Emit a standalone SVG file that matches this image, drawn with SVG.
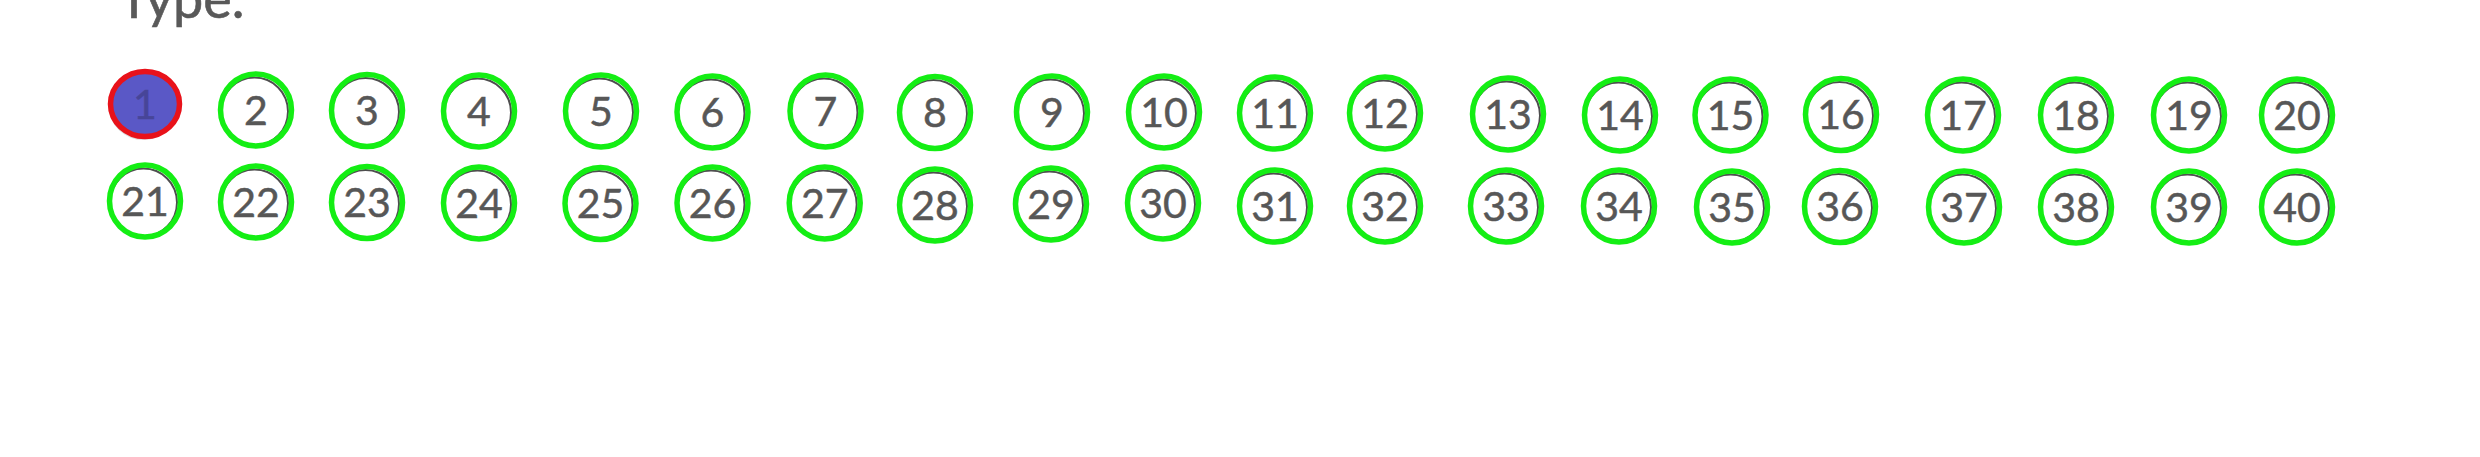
<svg xmlns="http://www.w3.org/2000/svg" width="2480" height="457" viewBox="0 0 2480 457">
<style>
.outline{fill:#ffffff;stroke:#4e4e4e;stroke-width:2}
.ring{fill:none;stroke:#14ee14;stroke-width:5.5}
.num{font-family:Lato,"Liberation Sans",sans-serif;font-size:41px;fill:#575757;stroke:#575757;stroke-width:0.5;text-anchor:middle}
.title{font-family:Lato,"Liberation Sans",sans-serif;font-size:54px;fill:#595959;stroke:#595959;stroke-width:0.6}
</style>
<defs>
<g id="c">
<ellipse class="outline" cx="-1.5" cy="1.5" rx="33.5" ry="34"/>
<ellipse class="ring" cx="0" cy="0" rx="35.5" ry="36"/>
</g>
</defs>
<rect width="2480" height="457" fill="#ffffff"/>
<text class="title" x="118" y="18">Type.</text>
<g id="connectors"></g>
<g id="node-1">
<ellipse cx="143" cy="107" rx="34" ry="33" fill="#9a9a9a" opacity="0.35"/>
<ellipse cx="145" cy="104" rx="34.5" ry="32.5" fill="#5a58c6" stroke="#e8121a" stroke-width="5.5"/>
<text class="num" x="145" y="118.5" style="fill:#3c3a7a;stroke:#3c3a7a;opacity:0.6">1</text>
</g>
<g id="node-2"><use href="#c" x="256" y="110"/><text class="num" x="256" y="124.5">2</text></g>
<g id="node-3"><use href="#c" x="367" y="110.5"/><text class="num" x="367" y="125">3</text></g>
<g id="node-4"><use href="#c" x="479" y="111"/><text class="num" x="479" y="125.5">4</text></g>
<g id="node-5"><use href="#c" x="601" y="111"/><text class="num" x="601" y="125.5">5</text></g>
<g id="node-6"><use href="#c" x="712.5" y="112"/><text class="num" x="712.5" y="126.5">6</text></g>
<g id="node-7"><use href="#c" x="825.5" y="111"/><text class="num" x="825.5" y="125.5">7</text></g>
<g id="node-8"><use href="#c" x="935" y="112.5"/><text class="num" x="935" y="127">8</text></g>
<g id="node-9"><use href="#c" x="1052" y="112"/><text class="num" x="1052" y="126.5">9</text></g>
<g id="node-10"><use href="#c" x="1164" y="112"/><text class="num" x="1164" y="126.5">10</text></g>
<g id="node-11"><use href="#c" x="1275" y="113"/><text class="num" x="1275" y="127.5">11</text></g>
<g id="node-12"><use href="#c" x="1385" y="113"/><text class="num" x="1385" y="127.5">12</text></g>
<g id="node-13"><use href="#c" x="1508" y="114"/><text class="num" x="1508" y="128.5">13</text></g>
<g id="node-14"><use href="#c" x="1620" y="115"/><text class="num" x="1620" y="129.5">14</text></g>
<g id="node-15"><use href="#c" x="1730.5" y="115"/><text class="num" x="1730.5" y="129.5">15</text></g>
<g id="node-16"><use href="#c" x="1841" y="114.5"/><text class="num" x="1841" y="129">16</text></g>
<g id="node-17"><use href="#c" x="1963" y="115"/><text class="num" x="1963" y="129.5">17</text></g>
<g id="node-18"><use href="#c" x="2076" y="115"/><text class="num" x="2076" y="129.5">18</text></g>
<g id="node-19"><use href="#c" x="2189" y="115"/><text class="num" x="2189" y="129.5">19</text></g>
<g id="node-20"><use href="#c" x="2297" y="115"/><text class="num" x="2297" y="129.5">20</text></g>
<g id="node-21"><use href="#c" x="145" y="201"/><text class="num" x="145" y="215.5">21</text></g>
<g id="node-22"><use href="#c" x="256" y="202"/><text class="num" x="256" y="216.5">22</text></g>
<g id="node-23"><use href="#c" x="367" y="202.5"/><text class="num" x="367" y="217">23</text></g>
<g id="node-24"><use href="#c" x="479" y="203"/><text class="num" x="479" y="217.5">24</text></g>
<g id="node-25"><use href="#c" x="600.5" y="203.5"/><text class="num" x="600.5" y="218">25</text></g>
<g id="node-26"><use href="#c" x="712.5" y="203"/><text class="num" x="712.5" y="217.5">26</text></g>
<g id="node-27"><use href="#c" x="824.7" y="203"/><text class="num" x="824.7" y="217.5">27</text></g>
<g id="node-28"><use href="#c" x="935" y="205"/><text class="num" x="935" y="219.5">28</text></g>
<g id="node-29"><use href="#c" x="1051" y="204"/><text class="num" x="1051" y="218.5">29</text></g>
<g id="node-30"><use href="#c" x="1163" y="203"/><text class="num" x="1163" y="217.5">30</text></g>
<g id="node-31"><use href="#c" x="1275" y="206"/><text class="num" x="1275" y="220.5">31</text></g>
<g id="node-32"><use href="#c" x="1385" y="206"/><text class="num" x="1385" y="220.5">32</text></g>
<g id="node-33"><use href="#c" x="1506" y="206"/><text class="num" x="1506" y="220.5">33</text></g>
<g id="node-34"><use href="#c" x="1619" y="206"/><text class="num" x="1619" y="220.5">34</text></g>
<g id="node-35"><use href="#c" x="1732" y="207"/><text class="num" x="1732" y="221.5">35</text></g>
<g id="node-36"><use href="#c" x="1840" y="206.5"/><text class="num" x="1840" y="221">36</text></g>
<g id="node-37"><use href="#c" x="1964" y="207"/><text class="num" x="1964" y="221.5">37</text></g>
<g id="node-38"><use href="#c" x="2076" y="207"/><text class="num" x="2076" y="221.5">38</text></g>
<g id="node-39"><use href="#c" x="2189" y="207"/><text class="num" x="2189" y="221.5">39</text></g>
<g id="node-40"><use href="#c" x="2297" y="207"/><text class="num" x="2297" y="221.5">40</text></g>
</svg>
